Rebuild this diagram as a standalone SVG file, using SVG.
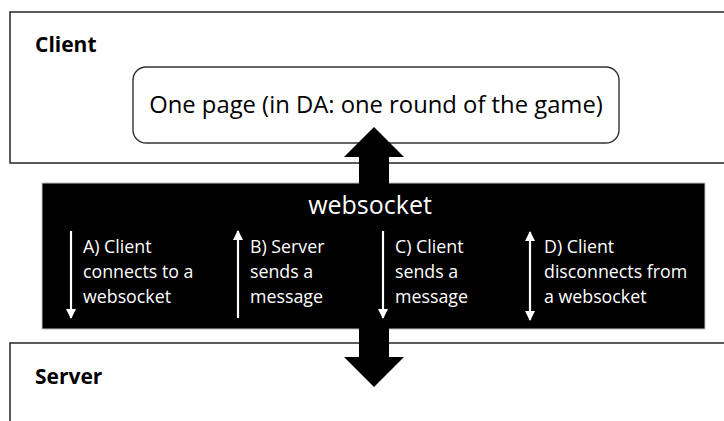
<svg xmlns="http://www.w3.org/2000/svg" width="724" height="421" viewBox="0 0 724 421">
  <defs>
    <style>
      .frame { fill: #ffffff; stroke: #333333; stroke-width: 1.6; }
      .page { fill: #ffffff; stroke: #333333; stroke-width: 1.4; }
      .band { fill: #000000; stroke: #bfbfbf; stroke-width: 1; }
      .title { font-family: "Open Sans", "Noto Sans", sans-serif; font-weight: bold; font-size: 21px; fill: #000000; }
      .pagetext { font-family: "Open Sans", "Noto Sans", sans-serif; font-size: 23.8px; fill: #000000; }
      .ws { font-family: "Open Sans", "Noto Sans", sans-serif; font-size: 25px; fill: #ffffff; }
      .lbl { font-family: "Open Sans", "Noto Sans", sans-serif; font-size: 17.8px; fill: #ffffff; }
      .small { stroke: #ffffff; stroke-width: 2.2; fill: none; }
      .big { fill: #000000; stroke: none; }
    </style>
    <marker id="wh" viewBox="0 0 10 10" refX="9" refY="5" markerWidth="10" markerHeight="10" markerUnits="userSpaceOnUse" orient="auto-start-reverse">
      <path d="M0,0 L10,5 L0,10 Z" fill="#ffffff"/>
    </marker>
  </defs>

  <g id="client">
    <rect class="frame" x="10" y="12" width="730" height="151"/>
    <text class="title" x="35" y="52">Client</text>
  </g>

  <g id="page">
    <rect class="page" x="133" y="67" width="486" height="76" rx="13" ry="13"/>
    <text class="pagetext" x="376" y="113" text-anchor="middle">One page (in DA: one round of the game)</text>
  </g>

  <g id="server">
    <rect class="frame" x="10" y="343" width="730" height="100"/>
    <text class="title" x="35" y="384">Server</text>
  </g>

  <g id="websocket">
    <rect class="band" x="42" y="183" width="663" height="146"/>
  </g>

  <g id="connectors">
    <path class="big" d="M374,127 L404,157 L389,157 L389,357 L404,357 L374,387 L344,357 L359,357 L359,157 L344,157 Z"/>
    <line class="small" x1="71" y1="231" x2="71" y2="318" marker-end="url(#wh)"/>
    <line class="small" x1="238" y1="318" x2="238" y2="231" marker-end="url(#wh)"/>
    <line class="small" x1="383" y1="231" x2="383" y2="318" marker-end="url(#wh)"/>
    <line class="small" x1="530" y1="232" x2="530" y2="320" marker-start="url(#wh)" marker-end="url(#wh)"/>
  </g>

  <g id="websocket-label">
    <text class="ws" x="370" y="214" text-anchor="middle">websocket</text>
  </g>

  <g id="label-a">
    <text class="lbl" x="83" y="253">A) Client</text>
    <text class="lbl" x="83" y="278">connects to a</text>
    <text class="lbl" x="83" y="303">websocket</text>
  </g>
  <g id="label-b">
    <text class="lbl" x="250" y="253">B) Server</text>
    <text class="lbl" x="250" y="278">sends a</text>
    <text class="lbl" x="250" y="303">message</text>
  </g>
  <g id="label-c">
    <text class="lbl" x="395" y="253">C) Client</text>
    <text class="lbl" x="395" y="278">sends a</text>
    <text class="lbl" x="395" y="303">message</text>
  </g>
  <g id="label-d">
    <text class="lbl" x="544" y="253">D) Client</text>
    <text class="lbl" x="544" y="278">disconnects from</text>
    <text class="lbl" x="544" y="303">a websocket</text>
  </g>
</svg>
